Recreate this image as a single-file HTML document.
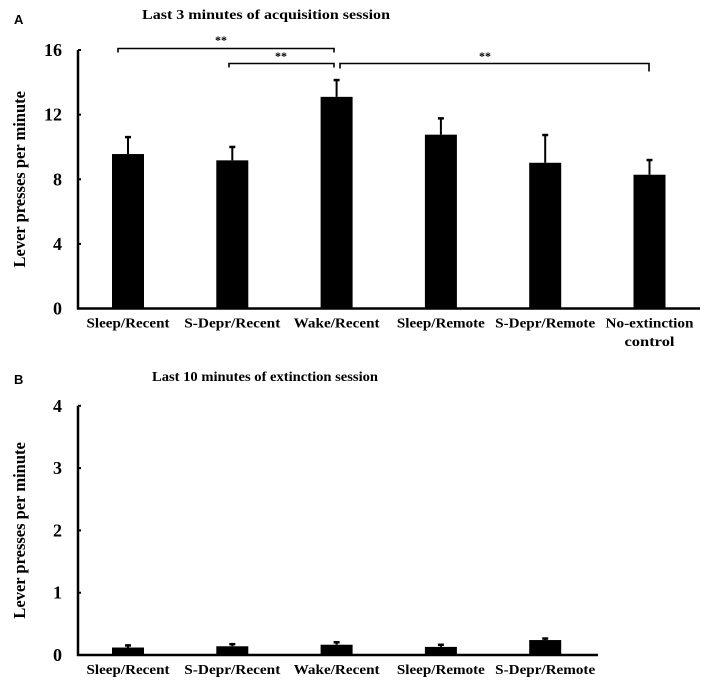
<!DOCTYPE html>
<html><head><meta charset="utf-8"><style>
body{margin:0;background:#fff}
svg text{font-family:"Liberation Serif",serif;font-weight:bold;fill:#000}
</style></head><body>
<svg id="chart" width="708" height="690" viewBox="0 0 708 690" xmlns="http://www.w3.org/2000/svg">
<text x="14" y="24" style="font-family:'Liberation Sans',sans-serif;font-size:13px">A</text>
<text x="266" y="19" text-anchor="middle" font-size="14" textLength="248" lengthAdjust="spacingAndGlyphs">Last 3 minutes of acquisition session</text>
<text x="14" y="384" style="font-family:'Liberation Sans',sans-serif;font-size:13px">B</text>
<text x="265" y="381" text-anchor="middle" font-size="14" textLength="226" lengthAdjust="spacingAndGlyphs">Last 10 minutes of extinction session</text>
<g id="gtop"></g>
<g id="gbot"></g>
</svg>
<script>
const catsA = ["Sleep/Recent","S-Depr/Recent","Wake/Recent","Sleep/Remote","S-Depr/Remote","No-extinction"];
const valsA = [9.56, 9.17, 13.1, 10.76, 9.02, 8.28];
const errA = [1.11, 0.89, 1.1, 1.07, 1.78, 0.97];
const ticksA = [0, 4, 8, 12, 16];
const catsB = ["Sleep/Recent","S-Depr/Recent","Wake/Recent","Sleep/Remote","S-Depr/Remote"];
const valsB = [0.12, 0.14, 0.165, 0.13, 0.24];
const errB = [0.05, 0.05, 0.055, 0.05, 0.04];
const ticksB = [0, 1, 2, 3, 4];
const labelW = [83, 96, 86, 88, 100, 88];

const NS = "http://www.w3.org/2000/svg";
function mk(p, tag, at){const e=document.createElementNS(NS,tag);for(const k in at)e.setAttribute(k,at[k]);p.appendChild(e);return e;}
const xc = i => 128 + i*104.3;

function panel(g, cats, vals, errs, ticks, y0, y1, vmax, axEnd, pfx){
  const y = v => y0 - v/vmax*(y0-y1);
  let l = mk(g,'line',{x1:78,y1:y(vmax),x2:78,y2:y0+1,stroke:'#000','stroke-width':2.5});
  
  
  l = mk(g,'line',{x1:77,y1:y0,x2:axEnd,y2:y0,stroke:'#000','stroke-width':2.5});
  
  
  ticks.forEach(t=>{
    const tk = mk(g,'line',{x1:78,y1:y(t),x2:81,y2:y(t),stroke:'#000','stroke-width':2});
    
    
    const tx = mk(g,'text',{x:62,y:y(t)+6,'text-anchor':'end','font-size':18});
    tx.textContent = t;
    
    
  });
  const yt = mk(g,'text',{transform:`translate(25,${(y0+y1)/2}) rotate(-90)`,'text-anchor':'middle','font-size':16.5});
  yt.textContent = 'Lever presses per minute';
  
  
  cats.forEach((c,i)=>{
    const x = xc(i);
    const e = mk(g,'line',{x1:x,y1:y(vals[i]),x2:x,y2:y(vals[i]+errs[i]),stroke:'#000','stroke-width':2});
    
    
    const cap = mk(g,'line',{x1:x-3,y1:y(vals[i]+errs[i])+1,x2:x+3,y2:y(vals[i]+errs[i])+1,stroke:'#000','stroke-width':2.5});
    
    
    const b = mk(g,'rect',{x:x-16,y:y(vals[i]),width:32,height:y0-y(vals[i]),fill:'#000'});
    
    
    const t = mk(g,'text',{x:x,y:y0+19,'text-anchor':'middle','font-size':14,textLength:labelW[i],lengthAdjust:'spacingAndGlyphs'});
    t.textContent = c;
    
    
  });
}
const gTop = document.getElementById('gtop'), gBot = document.getElementById('gbot');
panel(gTop, catsA, valsA, errA, ticksA, 308.5, 50, 16, 700, 'a-');
const ctl = mk(gTop,'text',{x:xc(5),y:346,'text-anchor':'middle','font-size':14,textLength:50,lengthAdjust:'spacingAndGlyphs'});
ctl.textContent = 'control';


panel(gBot, catsB, valsB, errB, ticksB, 655, 405.8, 4, 598, 'b-');

function bracket(x1,x2,y,d1,d2,tx,ty){
  const p = mk(gTop,'path',{d:`M${x1},${y+d1} V${y} H${x2} V${y+d2}`,fill:'none',stroke:'#000','stroke-width':1.6});
  
  
  const t = mk(gTop,'text',{x:tx,y:ty,'text-anchor':'middle','font-size':12});
  t.textContent='**';
  
  
}
bracket(118,334,48.5,4,4,221,44);
bracket(229,334,63.5,4,4,281,60);
bracket(340,649,63.5,5,8,485,60);
</script>
</body></html>
